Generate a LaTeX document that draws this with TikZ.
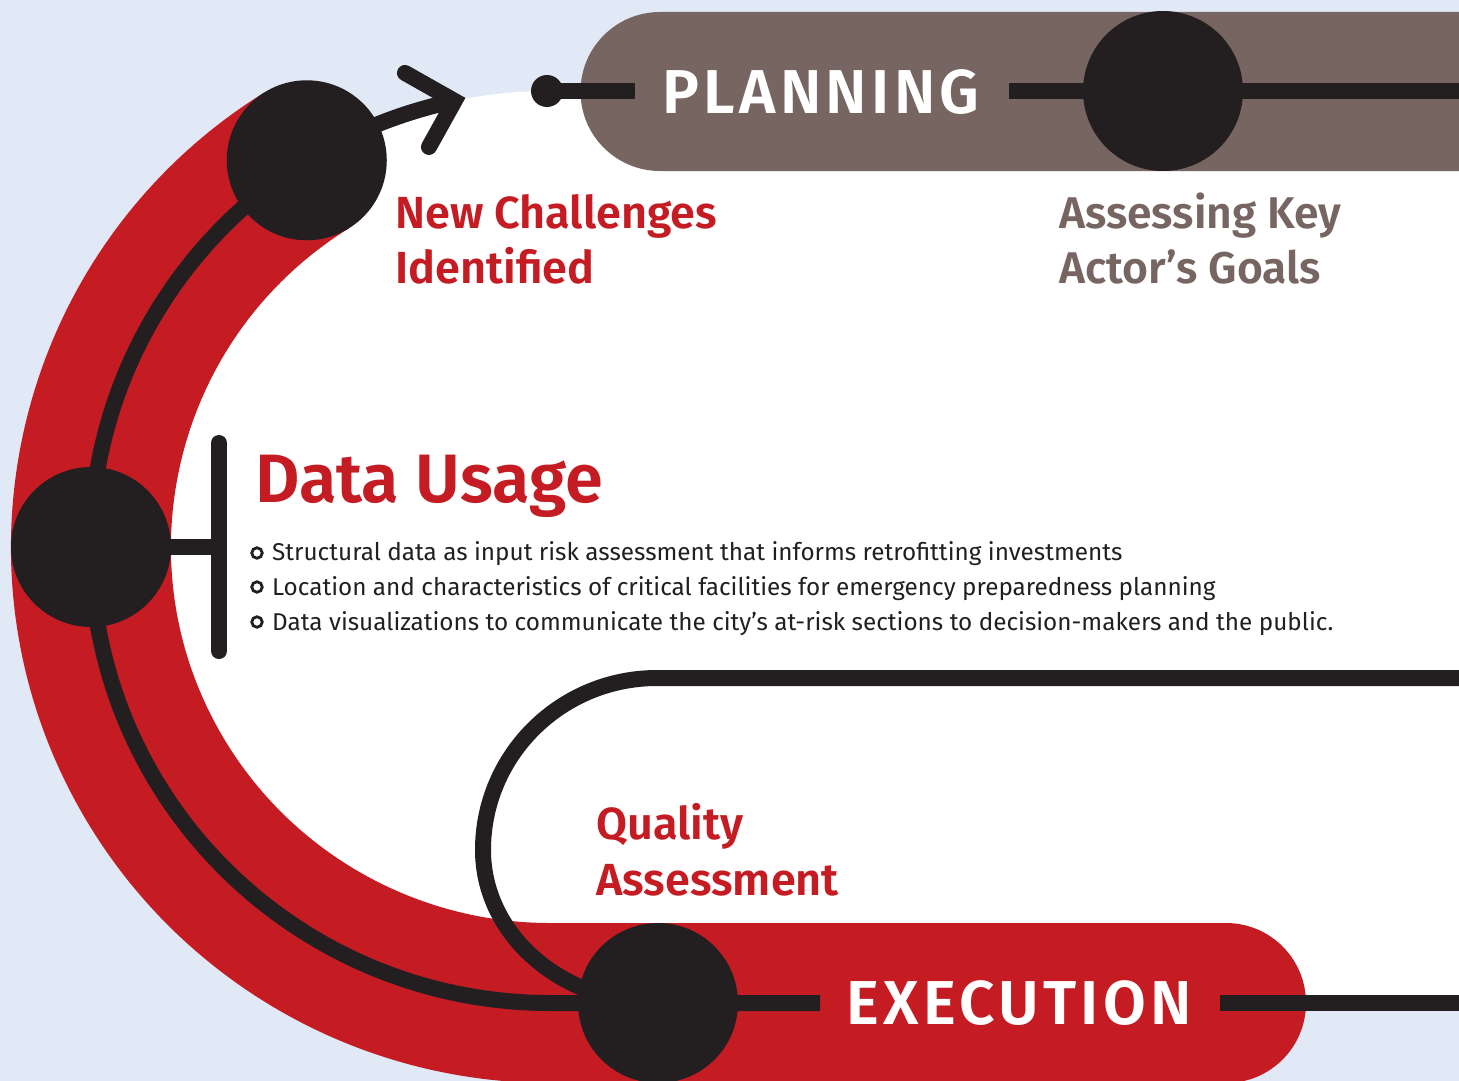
\documentclass[tikz,border=0pt]{standalone}
\usepackage{fontspec}
\setmainfont{Fira Sans}
\newfontfamily\semib{Fira Sans SemiBold}
\usetikzlibrary{calc}
\definecolor{bgblue}{RGB}{225,233,246}
\definecolor{cred}{RGB}{197,28,36}
\definecolor{cblack}{RGB}{35,31,32}
\definecolor{taupe}{RGB}{118,101,97}
\begin{document}
\begin{tikzpicture}[x=1pt,y=-1pt,
  blk/.style={draw=cblack, line width=16pt},
  bigdot/.style={circle, fill=cblack, minimum size=160pt, inner sep=0pt},
  smalldot/.style={circle, fill=cblack, minimum size=32pt, inner sep=0pt},
  ring/.style={circle, draw=cblack, line width=2.8pt, minimum size=10.5pt, inner sep=0pt},
  head/.style={anchor=base west, inner sep=0pt, font=\semib\fontsize{45}{54}\selectfont},
  bigcap/.style={anchor=base west, inner sep=0pt, text=white, font=\semib\fontsize{62}{62}\selectfont\addfontfeatures{LetterSpace=7}},
  bul/.style={anchor=base west, inner sep=0pt, text=cblack, font=\fontsize{24.3}{30}\selectfont}
]
\useasboundingbox (0,0) rectangle (1459,1081);
\clip (0,0) rectangle (1459,1081);
\fill[bgblue] (0,0) rectangle (1459,1081);
\coordinate (cen) at (550,547);
% white inner region
\fill[white] (1470,91) -- (550,91) arc[start angle=270, end angle=90, x radius=459, y radius=456] -- (1470,1003) -- cycle;
% red band
\draw[cred, line width=160pt] ($(cen)+(238:459 and 456)$) arc[start angle=238, end angle=90, x radius=459, y radius=456];
\fill[cred] (540,923) -- (1226,923) arc[start angle=-90, end angle=90, radius=80] -- (540,1083) -- cycle;
% planning pill
\fill[taupe] (1470,12) -- (660,12) arc[start angle=270, end angle=90, radius=79.5] -- (1470,171) -- cycle;
% coordinates
\coordinate (tip) at ($(cen)+(258:459 and 456)$);
\coordinate (xl) at (820,1003);
\coordinate (xr) at (1220,1003);
\coordinate (xe) at (1470,1003);
\coordinate (pr) at (1009,91);
\coordinate (pe) at (1470,91);
\coordinate (pl) at (635,91);
\coordinate (bt) at (219,443);
\coordinate (bb) at (219,651);
\coordinate (bm) at (219,547);
\coordinate (lt) at (1470,678);
\coordinate (lk) at (657,678);
% main curve with arrow
\draw[blk] (tip) arc[start angle=258, end angle=90, x radius=459, y radius=456] -- (xl);
\draw[blk, line cap=round, line join=miter] ($(tip)+(-49.6,-28)$) -- (tip) -- ($(tip)+(-25.6,46)$);
\draw[blk] (xr) -- (xe);
% planning line
\node[smalldot] (pd) at (547,91) {};
\draw[blk] (pd.center) -- (pl);
\draw[blk] (pr) -- (pe);
% quality loop
\draw[blk] (lt) -- (lk) arc[start angle=270, end angle=180, x radius=174, y radius=172] arc[start angle=180, end angle=90, x radius=175, y radius=153];
% data usage bracket
\node[bigdot] (c2) at ($(cen)+(180:459 and 456)$) {};
\draw[blk] (c2.center) -- (bm);
\draw[blk, line cap=round] (bt) -- (bb);
% big dots
\node[bigdot] (c1) at ($(cen)+(238:459 and 456)$) {};
\node[bigdot] (c3) at (658,1003) {};
\node[bigdot] (c4) at (1163,91) {};
% texts
\node[bigcap] (tpl) at (662,113) {PLANNING};
\node[bigcap] (tex) at (846,1024) {EXECUTION};
\node[head, text=cred] (nc1) at (395,228) {New Challenges};
\node[head, text=cred] (nc2) at (395,283) {Identified};
\node[head, text=taupe, font=\semib\fontsize{44.4}{54}\selectfont] (ak1) at (1059,228) {Assessing Key};
\node[head, text=taupe, font=\semib\fontsize{44.4}{54}\selectfont] (ak2) at (1059,283) {Actor’s Goals};
\node[head, text=cred] (qa1) at (596,839) {Quality};
\node[head, text=cred] (qa2) at (596,895) {Assessment};
\node[anchor=base west, inner sep=0pt, text=cred, font=\semib\fontsize{68.5}{70}\selectfont] (du) at (255,502) {Data Usage};
\node[ring] (r1) at (257,553) {};
\node[ring] (r2) at (257,587) {};
\node[ring] (r3) at (257,622) {};
\node[bul] (b1) at (272,560) {Structural data as input risk assessment that informs retrofitting investments};
\node[bul] (b2) at (272,595) {Location and characteristics of critical facilities for emergency preparedness planning};
\node[bul] (b3) at (272,630) {Data visualizations to communicate the city’s at-risk sections to decision-makers and the public.};
\end{tikzpicture}
\end{document}
